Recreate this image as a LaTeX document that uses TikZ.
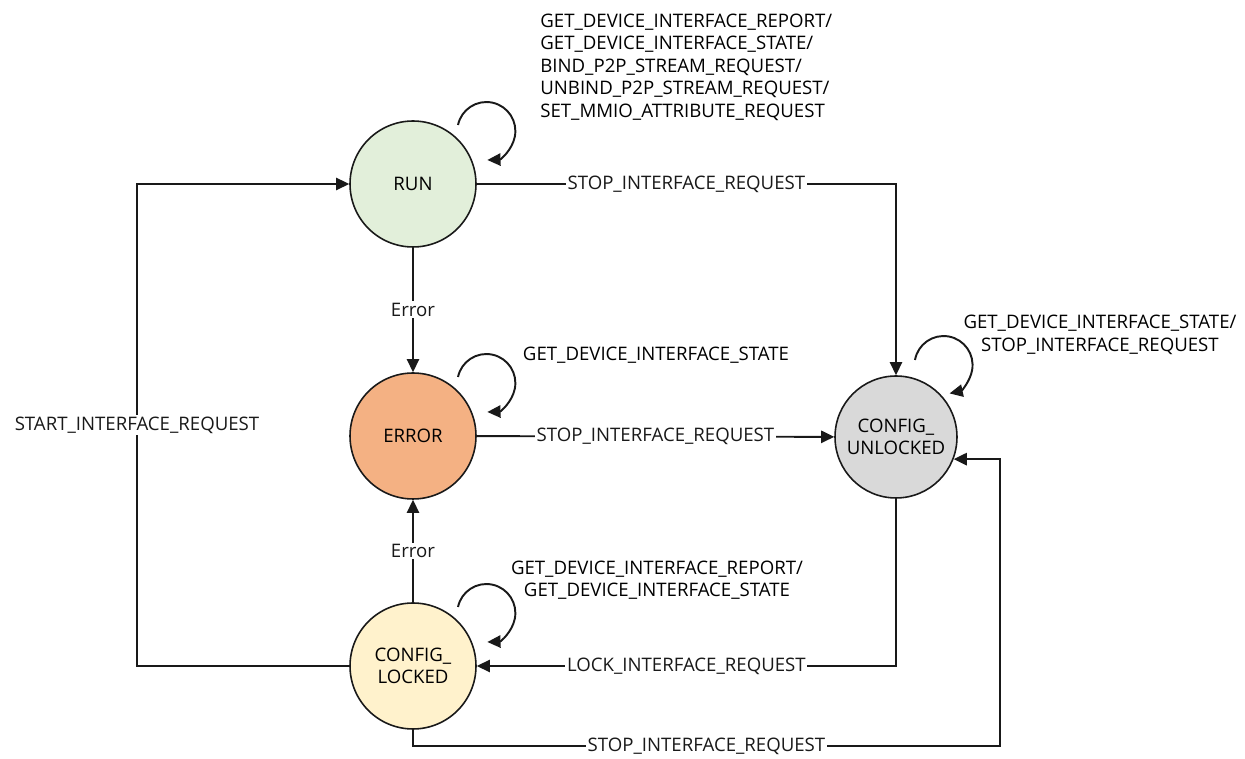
\documentclass[tikz,border=0pt]{standalone}
\usepackage{fontspec}
\setmainfont{Open Sans}
\usepackage{tikz}
\usetikzlibrary{arrows.meta, positioning, calc}
\definecolor{RunFill}{RGB}{226, 239, 218}
\definecolor{ErrFill}{RGB}{244, 177, 131}
\definecolor{UnlockFill}{RGB}{217, 217, 217}
\definecolor{LockFill}{RGB}{255, 242, 204}
\definecolor{LineGray}{RGB}{25, 25, 25}

\begin{document}
\begin{tikzpicture}[x=0.02cm, y=0.02cm,
  state/.style={circle, draw=LineGray, line width=0.9pt, minimum size=2.52cm,
    inner sep=0pt, align=center, font=\fontsize{10.6}{12.8}\selectfont},
  arr/.style={-{Triangle[length=7.5pt, width=7pt]}, LineGray, line width=1.1pt},
  lbl/.style={fill=white, inner sep=1pt, font=\fontsize{10.6}{12.8}\selectfont},
  txt/.style={inner sep=0pt, font=\fontsize{10.6}{12.8}\selectfont}
]
\useasboundingbox (0,0) rectangle (1245,-759);
% states
\node[state, fill=RunFill] (run) at (413,-184) {RUN};
\node[state, fill=ErrFill] (error) at (413,-436) {ERROR};
\node[state, fill=UnlockFill, minimum size=2.44cm] (unlocked) at (896,-437) {CONFIG\_\\UNLOCKED};
\node[state, fill=LockFill] (locked) at (413,-666) {CONFIG\_\\LOCKED};
% corner points
\coordinate (lftbot) at (137,-666);
\coordinate (lfttop) at (137,-184);
\coordinate (botrgt) at (1000,-746);
% transitions
\draw[arr] (run) -- node[lbl] {Error} (error);
\draw[arr] (locked) -- node[lbl] {Error} (error);
\draw[arr] (run.east) -| node[lbl, pos=0.25] {STOP\_INTERFACE\_REQUEST} (unlocked.north);
\draw[arr] (error) -- node[lbl] {STOP\_INTERFACE\_REQUEST} (unlocked);
\draw[arr] (unlocked.south) |- node[lbl, pos=0.75] {LOCK\_INTERFACE\_REQUEST} (locked.east);
\draw[arr] (locked.south) |- node[lbl, pos=0.75] {STOP\_INTERFACE\_REQUEST} (botrgt) |- (unlocked.-21);
\draw[arr] (locked) -- (lftbot) -- node[lbl] {START\_INTERFACE\_REQUEST} (lfttop) -- (run);
% self loops
\draw[arr] ($(run)+(45,59)$) arc[start angle=168, end angle=-88, radius=29];
\draw[arr] ($(error)+(45,59)$) arc[start angle=168, end angle=-88, radius=29];
\draw[arr] ($(locked)+(45,59)$) arc[start angle=168, end angle=-88, radius=29];
\draw[arr] ($(unlocked)+(19,77)$) arc[start angle=170, end angle=-78, radius=29];
% loop labels
\node[txt, align=left, anchor=west] (runloop) at (540,-67) {GET\_DEVICE\_INTERFACE\_REPORT/\\GET\_DEVICE\_INTERFACE\_STATE/\\BIND\_P2P\_STREAM\_REQUEST/\\UNBIND\_P2P\_STREAM\_REQUEST/\\SET\_MMIO\_ATTRIBUTE\_REQUEST};
\node[txt] (errloop) at (656,-355) {GET\_DEVICE\_INTERFACE\_STATE};
\node[txt, align=center] (unlockloop) at (1100,-335) {GET\_DEVICE\_INTERFACE\_STATE/\\STOP\_INTERFACE\_REQUEST};
\node[txt, align=center] (lockloop) at (657,-580) {GET\_DEVICE\_INTERFACE\_REPORT/\\GET\_DEVICE\_INTERFACE\_STATE};
\end{tikzpicture}
\end{document}
